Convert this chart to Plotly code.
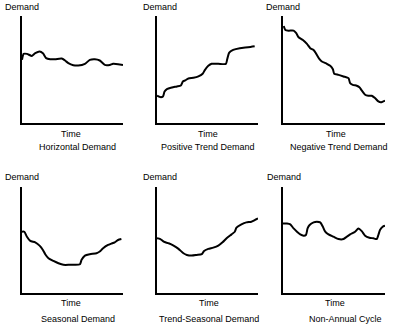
import plotly.graph_objects as go

W, H = 395, 327

titles = ["Horizontal Demand", "Positive Trend Demand", "Negative Trend Demand",
          "Seasonal Demand", "Trend-Seasonal Demand", "Non-Annual Cycle"]
y_label = "Demand"
x_label = "Time"

# Horizontal demand
h_x = [0, 1.6, 4.9, 9.8, 13.1, 17.4, 20.7, 23.9, 27.9, 32.8, 39.3, 42.6, 45.9, 50.8, 55.7, 62.3, 67.2, 72.1, 77.0, 82.0, 86.9, 90.2, 95.1, 100]
h_y = [59, 64.6, 64.6, 62.7, 65.2, 66.8, 65.2, 60.6, 59.6, 59.6, 60.2, 58.4, 55.9, 54.0, 53.7, 55.3, 59.0, 59.6, 58.4, 54.3, 54.3, 55.3, 55.0, 54.3]

# Positive trend demand
p_x = [0, 3.3, 5.9, 7.5, 9.8, 14.8, 19.7, 23.6, 25.6, 27.9, 31.1, 36.1, 41, 45.2, 47.5, 50.8, 54.1, 60.7, 68.2, 69.5, 71.5, 75.4, 82, 90.2, 96.7]
p_y = [25.5, 24.2, 24.8, 29.5, 31.7, 33.2, 34.2, 35.1, 38.8, 39.8, 41.6, 42.2, 43.5, 46.0, 49.7, 53.4, 55.3, 55.3, 55.3, 59.6, 65.8, 68.3, 69.9, 70.8, 71.7]

# Negative trend demand
n_x = [0.7, 2.3, 5.5, 10.4, 13, 15.3, 19.5, 23.5, 26.7, 30, 32.6, 35.8, 38.1, 43, 46.3, 48.9, 50.2, 54.4, 59.3, 64.2, 65.8, 68.4, 72.3, 74.9, 77.2, 80.5, 83.7, 87, 90.2, 93.5, 95.8, 98.4, 100]
n_y = [90.7, 87.0, 86.3, 86.3, 83.9, 80.1, 77.6, 73.9, 69.9, 68.3, 64.6, 59.6, 57.5, 55.3, 53.4, 50.3, 46, 45, 43.5, 41.9, 37.3, 35.7, 34.8, 33.5, 30.4, 26.4, 25.5, 25.5, 23.3, 20.2, 19.3, 20.2, 20.8]

# Seasonal demand
s_x = [0, 2.3, 4.9, 8.2, 13.1, 17.4, 20.7, 23, 26.2, 31.1, 36.1, 41, 47.5, 52.5, 57.4, 59, 62.3, 67.2, 73.8, 77, 80.3, 85.2, 88.5, 91.8, 95.1, 98.4]
s_y = [57.8, 57.8, 53.1, 49.1, 47.8, 44.7, 40.6, 36.6, 32.8, 30.3, 28.1, 26.6, 26.6, 26.6, 27.2, 31.3, 35.3, 36.6, 37.5, 39.1, 42.2, 45.3, 46.6, 47.8, 50, 50.9]

# Trend-seasonal demand
t_x = [0, 3.3, 6.6, 11.5, 16.4, 21.3, 26.2, 29.5, 34.4, 39.3, 44.3, 46.6, 50.8, 55.7, 60.7, 64.9, 68.9, 73.8, 77, 78.7, 83.6, 88.5, 93.4, 96.7, 100]
t_y = [51.6, 50.9, 48.4, 46.9, 44.7, 41.6, 37.5, 35.9, 35.3, 35.9, 36.6, 39.7, 41.6, 42.8, 44.7, 47.8, 51.6, 55.3, 57.8, 61.6, 64.7, 66.6, 67.2, 68.8, 70.3]

# Non-annual cycle
c_x = [0, 3.9, 7.2, 10.4, 13.7, 16.9, 20.2, 22.5, 24.1, 26.1, 30, 33.2, 36.5, 39.1, 41.4, 44.6, 49.5, 54.4, 59.3, 62.5, 65.8, 70.7, 73.9, 77.2, 80.5, 84.7, 88.6, 91.9, 93.5, 95.1, 97.7, 100]
c_y = [65.6, 65.6, 64.7, 60.9, 57.8, 55.3, 54.1, 54.7, 60.9, 64.1, 66.6, 67.2, 66.6, 62.5, 57.8, 55.3, 53.1, 50.9, 50.9, 53.1, 55.3, 57.8, 60.9, 58.4, 54.1, 52.2, 51.6, 50.9, 54.7, 59.4, 62.5, 63.4]

series = [(h_x, h_y), (p_x, p_y), (n_x, n_y), (s_x, s_y), (t_x, t_y), (c_x, c_y)]

# panel plot-area boxes in pixels: (left, right, top, bottom)
boxes = [(22, 123, 16, 123), (157, 258, 16, 123), (283, 385, 16, 123),
         (22, 123, 187, 293), (157, 258, 187, 293), (283, 385, 187, 293)]
demand_pos = [(3, 7), (141, 7), (264, 7), (3, 177), (141, 177), (265, 177)]
time_pos = [(71, 134), (208, 134), (336, 134), (71, 303), (209, 303), (335, 303)]
title_pos = [(77, 147), (208, 147), (339, 147), (78, 319), (209, 319), (345, 319)]

fig = go.Figure()
FONT = dict(family="Liberation Sans, Arial, sans-serif", size=9, color="#000")
annotations = []
for i, ((xs, ys), (l, r, t, b)) in enumerate(zip(series, boxes)):
    n = "" if i == 0 else str(i + 1)
    fig.add_trace(go.Scatter(x=xs, y=ys, mode="lines", xaxis="x" + n, yaxis="y" + n,
                             line=dict(color="black", width=2, shape="spline", smoothing=0.6),
                             showlegend=False, hoverinfo="skip"))
    ax = dict(domain=[l / W, r / W], range=[0, 100], showline=True, linecolor="black",
              linewidth=2, showgrid=False, zeroline=False, showticklabels=False, ticks="",
              fixedrange=True)
    ay = dict(domain=[1 - b / H, 1 - t / H], range=[0, 100], showline=True, linecolor="black",
              linewidth=2, showgrid=False, zeroline=False, showticklabels=False, ticks="",
              fixedrange=True)
    fig.update_layout(**{"xaxis" + n: dict(ax, anchor="y" + n),
                         "yaxis" + n: dict(ay, anchor="x" + n)})
    dx, dy = demand_pos[i]
    annotations.append(dict(x=dx / W, y=1 - dy / H, xref="paper", yref="paper", text=y_label,
                            showarrow=False, xanchor="left", yanchor="middle", font=FONT))
    tx, ty = time_pos[i]
    annotations.append(dict(x=tx / W, y=1 - ty / H, xref="paper", yref="paper", text=x_label,
                            showarrow=False, xanchor="center", yanchor="middle", font=FONT))
    px, py = title_pos[i]
    annotations.append(dict(x=px / W, y=1 - py / H, xref="paper", yref="paper", text=titles[i],
                            showarrow=False, xanchor="center", yanchor="middle", font=FONT))

fig.update_layout(width=W, height=H, margin=dict(l=0, r=0, t=0, b=0),
                  paper_bgcolor="white", plot_bgcolor="white", annotations=annotations)
fig.write_html("out.html", config={"displayModeBar": False})
